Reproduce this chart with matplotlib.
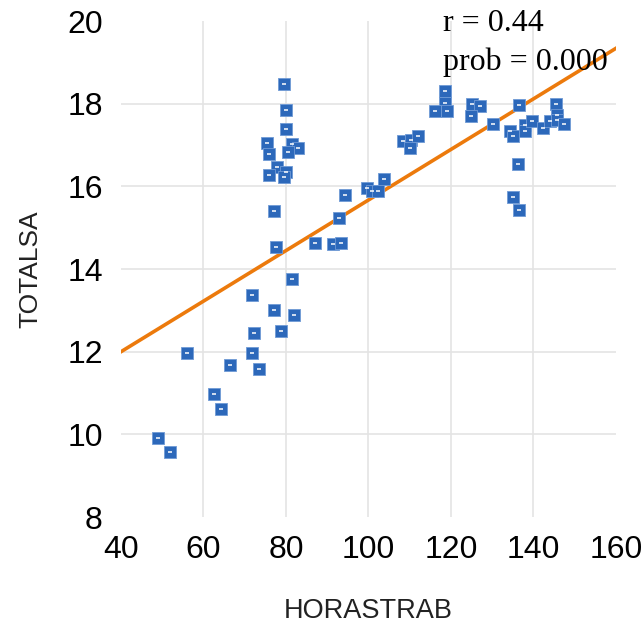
import matplotlib
matplotlib.use("Agg")
import matplotlib.pyplot as plt
import numpy as np

# horas trabajadas vs total salario
horastrab = [79.6, 80.0, 79.9, 75.5, 81.5, 82.9, 80.4, 75.9, 77.9, 80.1,
             75.9, 79.6, 94.4, 77.1, 92.8, 87.0, 91.5, 93.3, 77.5, 81.5,
             71.8, 77.1, 82.0, 72.2, 78.7, 56.1, 71.8, 66.4, 73.5, 62.5,
             64.3, 49.1, 52.0,
             118.6, 118.6, 116.2, 119.0, 125.2, 127.0, 124.8, 130.1, 136.6,
             134.2, 135.1, 138.0, 138.0, 139.6, 142.4, 145.4, 144.0, 145.7,
             145.7, 147.5, 108.3, 110.4, 112.1, 110.0, 103.8, 99.7, 100.9,
             102.2, 136.3, 135.1, 136.4]
totalsa = [18.48, 17.86, 17.38, 17.04, 17.02, 16.93, 16.84, 16.79, 16.47, 16.35,
           16.27, 16.22, 15.78, 15.40, 15.24, 14.63, 14.60, 14.63, 14.54, 13.77,
           13.36, 13.02, 12.90, 12.45, 12.50, 11.96, 11.96, 11.67, 11.59, 10.98,
           10.61, 9.92, 9.58,
           18.31, 18.02, 17.83, 17.82, 18.00, 17.95, 17.71, 17.51, 17.96,
           17.35, 17.21, 17.48, 17.34, 17.58, 17.42, 18.00, 17.58, 17.73,
           17.61, 17.51, 17.09, 17.12, 17.21, 16.94, 16.19, 15.95, 15.90,
           15.90, 16.55, 15.74, 15.42]

# recta de ajuste
intercept = 9.55
slope = 0.0612
x_line = [40, 160]

xticks = [40, 60, 80, 100, 120, 140, 160]
yticks = [8, 10, 12, 14, 16, 18, 20]

fig = plt.figure(figsize=(6.43, 6.27), dpi=100)
ax = fig.add_axes([0.188, 0.1754, 0.770, 0.791])

x_line = np.array(x_line)
ax.plot(x_line, intercept + slope * x_line, color="#ec7a0c", lw=2.6, zorder=2)
ax.scatter(horastrab, totalsa, marker="s", s=72, color="#2c68ba",
           edgecolors="#6f9ad6", linewidths=0.6, zorder=3)
ax.scatter(horastrab, totalsa, marker="_", s=10, color="white", linewidths=1.1, zorder=4)

ax.set_xlim(40, 160)
ax.set_ylim(8, 20)
ax.set_xticks(xticks)
ax.set_yticks(yticks)
ax.grid(True, color="#e4e4e4", lw=1.2, zorder=0)
for gl in ax.get_xgridlines()[::len(xticks) - 1]:
    gl.set_visible(False)
for gl in ax.get_ygridlines()[::len(yticks) - 1]:
    gl.set_visible(False)
for s in ax.spines.values():
    s.set_visible(False)
ax.tick_params(length=0, labelsize=23, pad=13)
for lab in ax.get_xticklabels() + ax.get_yticklabels():
    lab.set_family("Liberation Sans")

ax.set_xlabel("HORASTRAB", fontsize=19.5, family="Liberation Sans", color="#222222", labelpad=24)
ax.set_ylabel("TOTALSA", fontsize=19, family="Liberation Sans", color="#222222", labelpad=18)

fig.text(0.689, 0.963, "r = 0.44", fontsize=23, family="Liberation Serif", va="center")
fig.text(0.689, 0.900, "prob = 0.000", fontsize=23, family="Liberation Serif", va="center")

fig.savefig("out.png", dpi=100)
